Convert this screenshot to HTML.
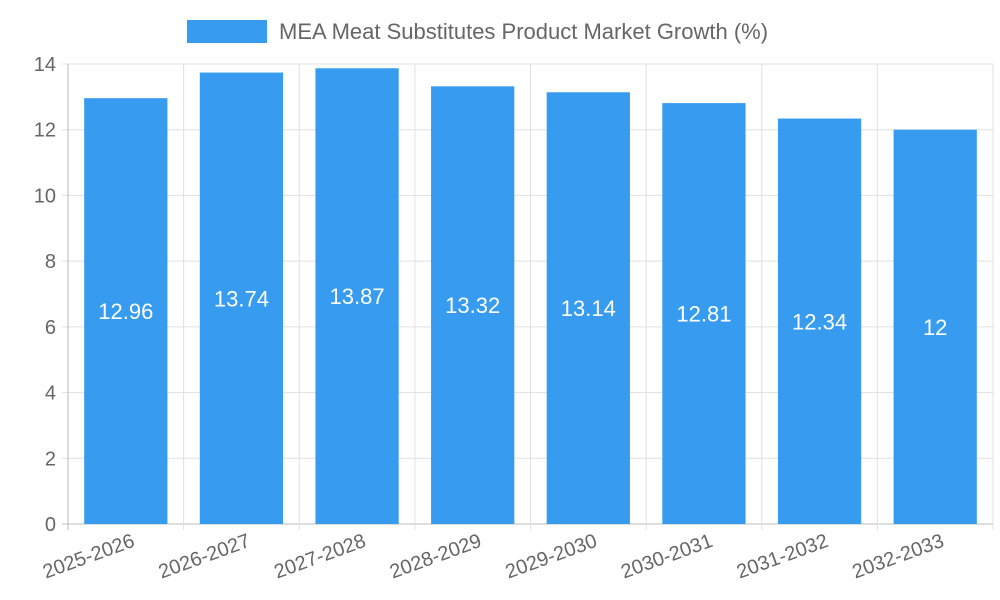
<!DOCTYPE html>
<html><head><meta charset="utf-8"><style>
body{margin:0;background:#fff;}
svg{display:block;font-family:"Liberation Sans",sans-serif;}
</style></head><body>
<svg id="chart" width="1000" height="600">
<g>
<rect x="187" y="20" width="80" height="23" fill="#379cf0"/>
<text x="279" y="39" font-size="22" fill="#666">MEA Meat Substitutes Product Market Growth (%)</text>
</g>
<g id="grid"></g>
<g id="bars"></g>
<g id="axes"></g>
</svg>
<script>
const categories=["2025-2026","2026-2027","2027-2028","2028-2029","2029-2030","2030-2031","2031-2032","2032-2033"];
const values=[12.96,13.74,13.87,13.32,13.14,12.81,12.34,12];
const valueLabels=["12.96","13.74","13.87","13.32","13.14","12.81","12.34","12"];
const yTicks=[0,2,4,6,8,10,12,14];
const NS="http://www.w3.org/2000/svg";
const L=68,R=993,T=64,B=524,yMax=14;
const bw=(R-L)/categories.length;
const y=v=>B-(v/yMax)*(B-T);
const x=i=>L+i*bw;
function mk(tag,attrs,parent,txt){const e=document.createElementNS(NS,tag);for(const k in attrs)e.setAttribute(k,attrs[k]);if(txt!==undefined)e.textContent=txt;parent.appendChild(e);return e;}
const grid=document.getElementById('grid'),bars=document.getElementById('bars'),axes=document.getElementById('axes');
yTicks.forEach(t=>{
 const l=mk('line',{x1:L-6,x2:R,y1:y(t),y2:y(t),stroke:t===0?'#bbb':'#e0e0e0','stroke-width':1},grid);
 
 
 const tx=mk('text',{x:L-12,y:y(t)+7,'text-anchor':'end','font-size':20,fill:'#666'},axes,String(t));
 
 
});
for(let i=0;i<=categories.length;i++){
 const l=mk('line',{x1:x(i),x2:x(i),y1:T,y2:B+6,stroke:i===0?'#bbb':'#e0e0e0','stroke-width':1},grid);
 
 
}
categories.forEach((c,i)=>{
 const w=bw*0.72,bx=x(i)+(bw-w)/2;
 const r=mk('rect',{x:bx,y:y(values[i]),width:w,height:B-y(values[i]),fill:'#379cf0'},bars);
 
 
 const vt=mk('text',{x:bx+w/2,y:(y(values[i])+B)/2+8,'text-anchor':'middle','font-size':22,fill:'#fff'},bars,valueLabels[i]);
 
 
 const cx=x(i)+bw/2+10,cy=B+22;
 const xt=mk('text',{x:cx,y:cy,'text-anchor':'end','font-size':20,fill:'#666',transform:`rotate(-20 ${cx} ${cy})`},axes,c);
 
 
});
</script>
</body></html>
